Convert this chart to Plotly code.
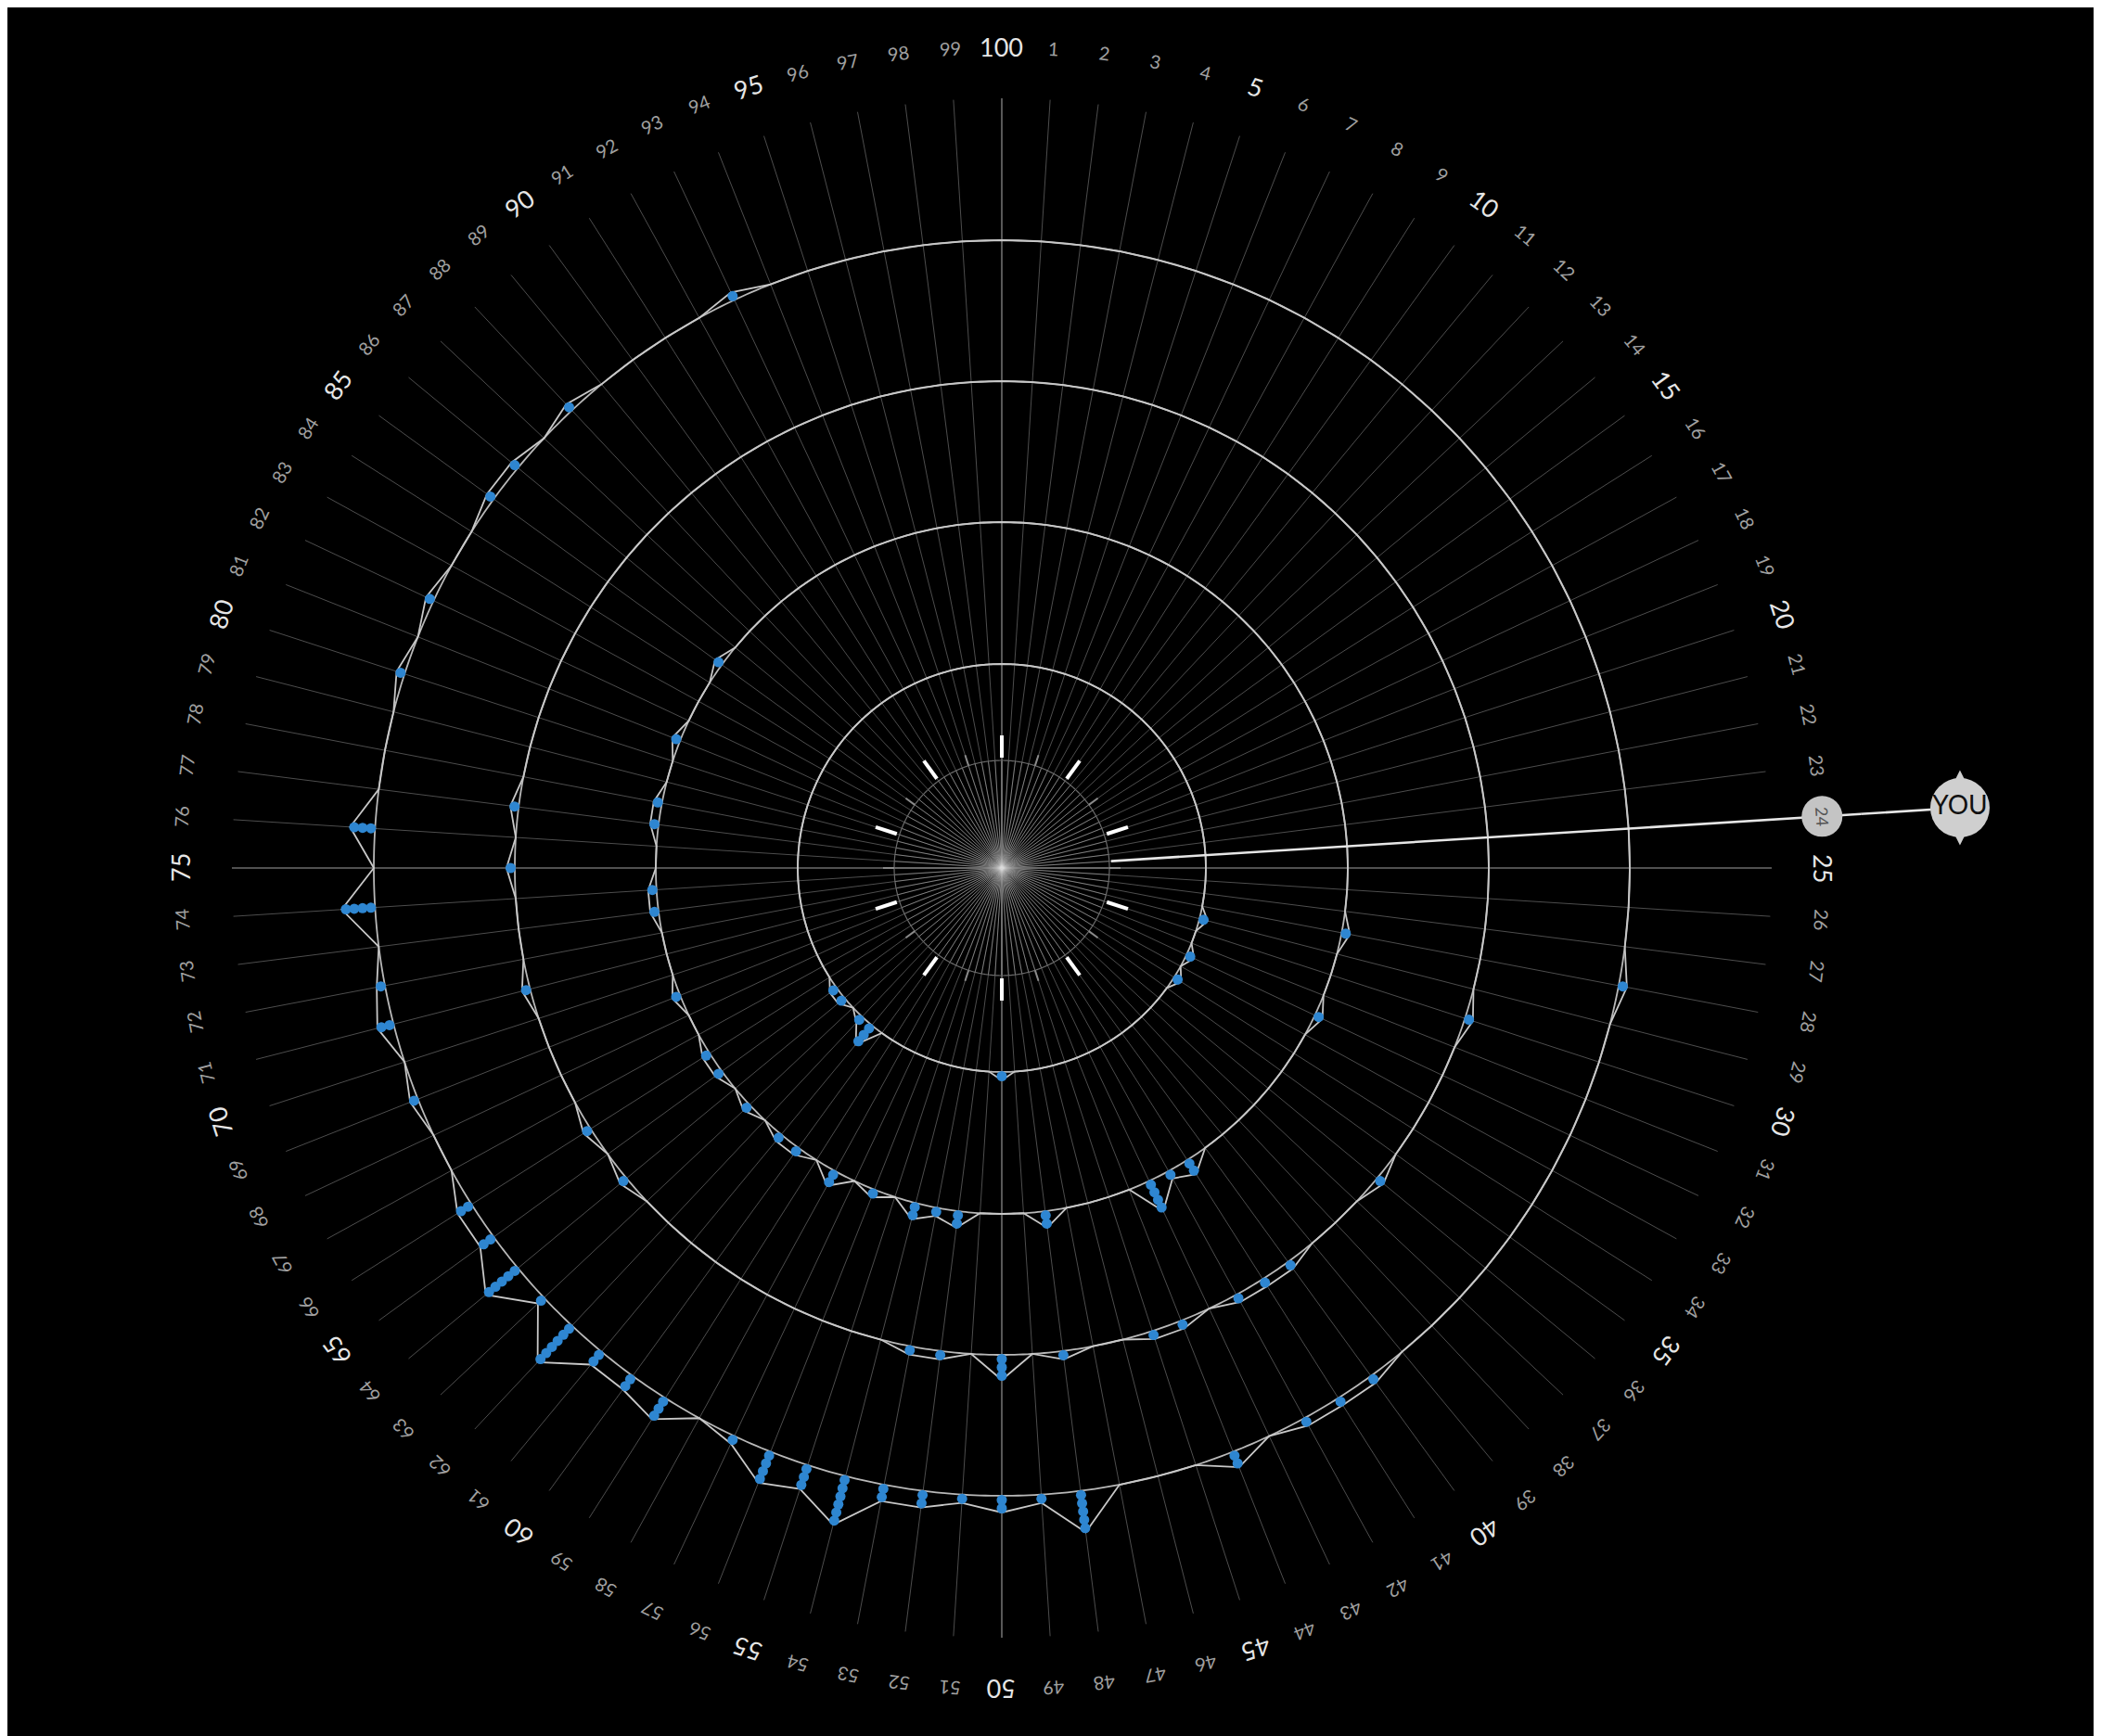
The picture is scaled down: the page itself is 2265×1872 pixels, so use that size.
import numpy as np
import plotly.graph_objects as go

# ---------------- data ----------------
categories = list(range(1, 101))          # angular categories, 100 at top, clockwise
major_every = 5                            # bigger labels at multiples of 5
you_category = 24
you_text = "YOU"

# stacked counts per ring (category -> number of dots); other categories are 0
ring1_counts = {29: 1, 32: 1, 34: 1, 50: 1, 61: 3, 62: 1, 64: 1, 65: 1}
ring2_counts = {28: 1, 32: 1, 41: 2, 42: 1, 43: 4, 48: 2, 52: 2, 53: 1, 54: 2,
                56: 1, 58: 2, 60: 1, 61: 1, 63: 1, 65: 1, 66: 1, 69: 1, 73: 1,
                74: 1, 77: 1, 78: 1, 81: 1, 85: 1}
ring3_counts = {30: 1, 36: 1, 40: 1, 41: 1, 42: 1, 44: 1, 45: 1, 48: 1, 50: 3,
                52: 1, 53: 1, 64: 1, 66: 1, 71: 1, 75: 1, 77: 1}
ring4_counts = {28: 1, 40: 1, 41: 1, 42: 1, 44: 2, 48: 5, 49: 1, 50: 2, 51: 1,
                52: 2, 53: 2, 54: 6, 55: 3, 56: 4, 57: 1, 59: 3, 60: 2, 61: 2,
                62: 6, 63: 1, 64: 5, 65: 2, 66: 2, 69: 1, 71: 2, 72: 1, 74: 4,
                76: 3, 80: 1, 82: 1, 85: 1, 86: 1, 88: 1, 93: 1}
rings = [ring1_counts, ring2_counts, ring3_counts, ring4_counts]

# ---------------- geometry / style ----------------
W, H = 2265, 1872
CX, CY = 1072, 928            # centre of the dial in figure px (from left / top)
R = 928                       # polar radius in px; radial unit = 1 px
ring_base = [220, 373, 525, 677]
step = 9                      # radial spacing between stacked dots
inner_r = 116
spoke_r = 830
label_r = 886
you_r = 1035
deg_per_cat = 360 / len(categories)
FONT = "Lato, Open Sans, sans-serif"


def th(k):
    return k * deg_per_cat


fig = go.Figure()


def spokes(cats, r0, r1):
    rr, tt = [], []
    for k in cats:
        rr += [r0, r1, None]
        tt += [th(k), th(k), None]
    return rr, tt


# spokes
sr, st = spokes(categories, 0, spoke_r)
fig.add_trace(go.Scatterpolar(r=sr, theta=st, mode="lines",
                              line=dict(color="#4d4d4d", width=1), hoverinfo="skip"))
sr, st = spokes([k for k in categories if k % 25 == 0], 0, spoke_r)
fig.add_trace(go.Scatterpolar(r=sr, theta=st, mode="lines",
                              line=dict(color="#7a7a7a", width=1.2), hoverinfo="skip"))
sr, st = spokes(categories, 0, inner_r)
fig.add_trace(go.Scatterpolar(r=sr, theta=st, mode="lines",
                              line=dict(color="rgba(220,220,220,0.35)", width=1), hoverinfo="skip"))

circ = np.linspace(0, 360, 721)
fig.add_trace(go.Scatterpolar(r=[inner_r] * len(circ), theta=circ, mode="lines",
                              line=dict(color="#6a6a6a", width=1.2), hoverinfo="skip"))
sr, st = spokes([k for k in categories if k % 10 == 5], inner_r, inner_r + 12)
fig.add_trace(go.Scatterpolar(r=sr, theta=st, mode="lines",
                              line=dict(color="#8a8a8a", width=2), hoverinfo="skip"))
sr, st = spokes([k for k in categories if k % 10 == 0], inner_r + 3, inner_r + 27)
fig.add_trace(go.Scatterpolar(r=sr, theta=st, mode="lines",
                              line=dict(color="#ffffff", width=4), hoverinfo="skip"))

# rings
for base, counts in zip(ring_base, rings):
    fig.add_trace(go.Scatterpolar(r=[base] * len(circ), theta=circ, mode="lines",
                                  line=dict(color="#b8b8b8", width=1.8), hoverinfo="skip"))
    lr = [base + counts.get(k, 0) * step for k in categories]
    lt = [th(k) for k in categories]
    lr.append(lr[0])
    lt.append(lt[0])
    fig.add_trace(go.Scatterpolar(r=lr, theta=lt, mode="lines",
                                  line=dict(color="#c8c8c8", width=1.8), hoverinfo="skip"))
    dr, dt = [], []
    for k in categories:
        for j in range(counts.get(k, 0)):
            dr.append(base + (j + 0.5) * step)
            dt.append(th(k))
    fig.add_trace(go.Scatterpolar(r=dr, theta=dt, mode="markers",
                                  marker=dict(color="#2e86d1", size=11, line=dict(width=0)),
                                  hoverinfo="skip"))

# YOU pointer inside the dial
fig.add_trace(go.Scatterpolar(r=[inner_r + 2, R], theta=[th(you_category)] * 2, mode="lines",
                              line=dict(color="#e6e6e6", width=2.6), hoverinfo="skip"))
fig.add_trace(go.Scatterpolar(r=[label_r], theta=[th(you_category)], mode="markers",
                              marker=dict(color="#c4c4c4", size=44, line=dict(width=0)),
                              hoverinfo="skip"))

# YOU badge lies outside the dial: drawn on an overlaid cartesian frame in the same px units
t_you = np.deg2rad(th(you_category))
seg_r = np.array([label_r + 21, you_r])
fig.add_trace(go.Scatter(x=seg_r * np.sin(t_you), y=seg_r * np.cos(t_you), mode="lines",
                         line=dict(color="#e6e6e6", width=2.6), hoverinfo="skip",
                         xaxis="x", yaxis="y"))
fig.add_trace(go.Scatter(x=[you_r * np.sin(t_you)], y=[you_r * np.cos(t_you)], mode="markers",
                         marker=dict(color="#cfcfcf", size=58, symbol="diamond-tall", line=dict(width=0)),
                         hoverinfo="skip", xaxis="x", yaxis="y"))
fig.add_trace(go.Scatter(x=[you_r * np.sin(t_you)], y=[you_r * np.cos(t_you)], mode="markers+text",
                         marker=dict(color="#cfcfcf", size=64, line=dict(width=0)),
                         text=[you_text], textposition="middle center",
                         textfont=dict(family=FONT, size=28, color="#111111"),
                         hoverinfo="skip", xaxis="x", yaxis="y"))

# rotated category labels
annotations = []
for k in categories:
    t = np.deg2rad(th(k))
    x = (CX + label_r * np.sin(t)) / W
    y = 1 - (CY - label_r * np.cos(t)) / H
    major = (k % major_every == 0)
    if k == you_category:
        color, size = "#555555", 18
    elif major:
        color, size = "#e6e6e6", 27
    else:
        color, size = "#a0a0a0", 20
    annotations.append(dict(x=x, y=y, xref="paper", yref="paper", text=str(k),
                            showarrow=False, textangle=th(k) % 360,
                            xanchor="center", yanchor="middle",
                            font=dict(family=FONT, size=size, color=color)))

fig.update_layout(
    width=W, height=H,
    margin=dict(l=0, r=0, t=0, b=0),
    paper_bgcolor="black", plot_bgcolor="rgba(0,0,0,0)",
    showlegend=False,
    xaxis=dict(domain=[0, 1], range=[-CX, W - CX], visible=False, fixedrange=True),
    yaxis=dict(domain=[0, 1], range=[-(H - CY), CY], visible=False, fixedrange=True),
    polar=dict(
        domain=dict(x=[(CX - R) / W, (CX + R) / W], y=[1 - 2 * CY / H, 1]),
        bgcolor="black",
        angularaxis=dict(rotation=90, direction="clockwise", visible=False),
        radialaxis=dict(range=[0, R], visible=False),
    ),
    annotations=annotations,
)

fig.write_html("out.html")
